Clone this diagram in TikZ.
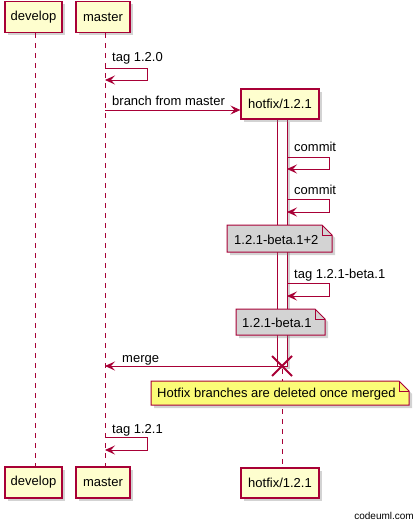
\documentclass[tikz,border=0pt]{standalone}
\usepackage{fontspec}
\setmainfont{Liberation Sans}
\usetikzlibrary{arrows.meta, shadows}
\definecolor{umlred}{HTML}{A80036}
\definecolor{umlbox}{HTML}{FEFECE}
\definecolor{notegray}{HTML}{D3D3D3}
\definecolor{noteyellow}{HTML}{FBFB77}

\begin{document}
\begin{tikzpicture}[x=1pt, y=-1pt,
  every node/.style={font=\fontsize{13}{15}\selectfont},
  umlshadow/.style={drop shadow={shadow xshift=3pt, shadow yshift=-3pt, opacity=.35}},
  part/.style={draw=umlred, fill=umlbox, line width=1.2pt, minimum height=31pt, inner sep=0pt, umlshadow},
  life/.style={umlred, line width=0.8pt, dash pattern=on 5pt off 5pt},
  msg/.style={umlred, line width=0.9pt, -{Stealth[length=10pt, width=9pt, inset=4pt]}},
  lbl/.style={anchor=base west, inner sep=0pt},
  notebox/.style={draw=umlred, line width=1pt, umlshadow}]
  \useasboundingbox (0,0) rectangle (418,524);
  % Participants, top and bottom
  \node[part, minimum width=57pt] (devtop) at (33.5,17) {develop};
  \node[part, minimum width=54pt] (mastop) at (103,17) {master};
  \node[part, minimum width=57pt] (devbot) at (33.5,482.5) {develop};
  \node[part, minimum width=54pt] (masbot) at (103,482.5) {master};
  % Lifelines
  \draw[life] ([xshift=2pt]devtop.south) -- ([xshift=2pt]devbot.north);
  \draw[life] ([xshift=2pt]mastop.south) -- ([xshift=2pt]masbot.north);
  \draw[life] (282.5,119) -- (282.5,468);
  % Activation of the hotfix branch
  \draw[umlred, fill=white, line width=1pt, umlshadow] (277.5,119) rectangle (287,366);
  % tag 1.2.0
  \coordinate (s1) at (105,68);
  \draw[msg] (s1) -- ++(42,0) -- ++(0,12) -- ++(-42,0);
  \node[lbl] (t1) at (112,62) {tag 1.2.0};
  % branch creates the hotfix participant
  \node[part, minimum width=78pt, minimum height=30pt] (hotop) at (280,104) {hotfix/1.2.1};
  \coordinate (b1) at (105,110);
  \draw[msg] (b1) -- (hotop.west |- b1);
  \node[lbl] (t2) at (112,106) {branch from master};
  % commits
  \coordinate (s2) at (287,157);
  \draw[msg] (s2) -- ++(42,0) -- ++(0,12) -- ++(-42,0);
  \node[lbl] (t3) at (294,151) {commit};
  \coordinate (s3) at (287,199);
  \draw[msg] (s3) -- ++(42,0) -- ++(0,13) -- ++(-42,0);
  \node[lbl] (t4) at (294,194) {commit};
  % note 1.2.1-beta.1+2
  \draw[notebox, fill=notegray] (227,225) -- (322,225) -- (332,235) -- (332,252) -- (227,252) -- cycle;
  \draw[umlred, line width=1pt] (322,225) -- (322,235) -- (332,235);
  \node[lbl] (n1) at (234,244) {1.2.1-beta.1+2};
  % tag 1.2.1-beta.1
  \coordinate (s4) at (287,283);
  \draw[msg] (s4) -- ++(42,0) -- ++(0,13) -- ++(-42,0);
  \node[lbl] (t5) at (294,278) {tag 1.2.1-beta.1};
  % note 1.2.1-beta.1
  \draw[notebox, fill=notegray] (236,309) -- (315,309) -- (325,319) -- (325,335) -- (236,335) -- cycle;
  \draw[umlred, line width=1pt] (315,309) -- (315,319) -- (325,319);
  \node[lbl] (n2) at (242,327) {1.2.1-beta.1};
  % merge and delete
  \coordinate (m1) at (287,366);
  \draw[msg] (m1) -- (105,366);
  \node[lbl] (t6) at (122,362) {merge};
  \draw[umlred, line width=1.8pt] (272,356) -- (292,376) (272,376) -- (292,356);
  % note on deletion
  \draw[notebox, fill=noteyellow] (151,381) -- (399,381) -- (409,391) -- (409,405) -- (151,405) -- cycle;
  \draw[umlred, line width=1pt] (399,381) -- (399,391) -- (409,391);
  \node[lbl] (n3) at (157,397) {Hotfix branches are deleted once merged};
  % tag 1.2.1
  \coordinate (s5) at (105,437);
  \draw[msg] (s5) -- ++(42,0) -- ++(0,13) -- ++(-42,0);
  \node[lbl] (t7) at (112,433) {tag 1.2.1};
  \node[part, minimum width=78pt, minimum height=30pt] (hotbot) at (280,483) {hotfix/1.2.1};
  \node[anchor=base east, inner sep=0pt, font=\fontsize{10}{12}\selectfont] (cred) at (414,519) {codeuml.com};
\end{tikzpicture}
\end{document}
